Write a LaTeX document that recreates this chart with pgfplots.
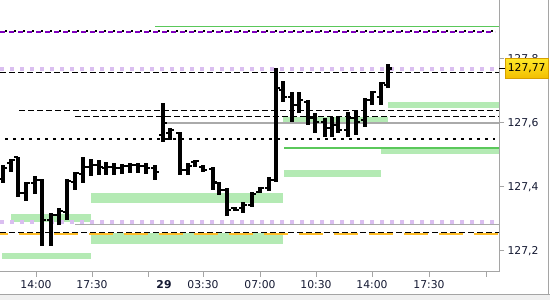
\documentclass[border=0pt]{standalone}
\usepackage{fontspec}
\setmainfont{DejaVu Sans}
\usepackage{pgfplots}
\pgfplotsset{compat=1.18}
\usepackage{pgfplotstable}
\definecolor{band}{RGB}{180,234,180}
\definecolor{lvlgreen}{RGB}{90,200,90}
\definecolor{lvlpurple}{RGB}{128,0,192}
\definecolor{lightpurple}{RGB}{218,190,240}
\definecolor{lvlgray}{RGB}{170,170,170}
\definecolor{lvlorange}{RGB}{255,190,40}
\definecolor{framegray}{RGB}{165,165,165}
\definecolor{stripgray}{RGB}{240,240,240}
\definecolor{labtext}{RGB}{20,25,50}
\definecolor{boxtop}{RGB}{255,232,40}
\definecolor{boxbot}{RGB}{242,190,0}
\definecolor{boxedge}{RGB}{215,160,0}
\newcommand\curprice{127,77}
% open / close of each 30-min bar
\pgfplotstableread{
x o c
3 127.425 127.459
11 127.475 127.484
18 127.494 127.381
26 127.381 127.413
35 127.413 127.422
42 127.422 127.297
51 127.297 127.313
59 127.313 127.325
67 127.322 127.419
75 127.416 127.444
83 127.441 127.463
91 127.463 127.469
99 127.469 127.463
106 127.459 127.463
114 127.463 127.459
122 127.459 127.466
130 127.466 127.469
138 127.469 127.466
146 127.466 127.459
155 127.459 127.447
163 127.563 127.600
170 127.569 127.578
180 127.569 127.453
188 127.453 127.466
195 127.478 127.481
203 127.463 127.453
213 127.456 127.416
219 127.413 127.391
227 127.391 127.328
235 127.334 127.328
243 127.334 127.344
252 127.344 127.378
260 127.384 127.397
269 127.397 127.422
276 127.422 127.709
283 127.703 127.681
292 127.681 127.656
299 127.656 127.672
308 127.666 127.616
315 127.616 127.603
325 127.603 127.584
332 127.584 127.594
338 127.594 127.578
348 127.578 127.616
356 127.616 127.603
365 127.609 127.672
372 127.672 127.697
381 127.681 127.725
388 127.719 127.770
}\oc
% low / high of each bar (low row, high row, break)
\pgfplotstableread{
x y
3 127.413
3 127.469
3 nan
11 127.447
11 127.488
11 nan
18 127.369
18 127.494
18 nan
26 127.356
26 127.416
26 nan
35 127.378
35 127.434
35 nan
42 127.216
42 127.425
42 nan
51 127.216
51 127.319
51 nan
59 127.281
59 127.334
59 nan
67 127.297
67 127.425
67 nan
75 127.391
75 127.447
75 nan
83 127.413
83 127.494
83 nan
91 127.434
91 127.488
91 nan
99 127.438
99 127.484
99 nan
106 127.438
106 127.478
106 nan
114 127.438
114 127.475
114 nan
122 127.441
122 127.472
122 nan
130 127.444
130 127.475
130 nan
138 127.444
138 127.475
138 nan
146 127.441
146 127.475
146 nan
155 127.422
155 127.469
155 nan
163 127.541
163 127.663
163 nan
170 127.547
170 127.584
170 nan
180 127.438
180 127.572
180 nan
188 127.438
188 127.475
188 nan
195 127.463
195 127.484
195 nan
203 127.447
203 127.469
203 nan
213 127.391
213 127.463
213 nan
219 127.375
219 127.416
219 nan
227 127.309
227 127.397
227 nan
235 127.325
235 127.338
235 nan
243 127.319
243 127.353
243 nan
252 127.338
252 127.384
252 nan
260 127.381
260 127.400
260 nan
269 127.388
269 127.431
269 nan
276 127.416
276 127.772
276 nan
283 127.666
283 127.731
283 nan
292 127.603
292 127.697
292 nan
299 127.631
299 127.697
299 nan
308 127.594
308 127.672
308 nan
315 127.569
315 127.631
315 nan
325 127.556
325 127.616
325 nan
332 127.556
332 127.619
332 nan
338 127.569
338 127.619
338 nan
348 127.556
348 127.634
348 nan
356 127.563
356 127.641
356 nan
365 127.588
365 127.678
365 nan
372 127.656
372 127.700
372 nan
381 127.656
381 127.728
381 nan
388 127.709
388 127.784
388 nan
}\hl
\begin{document}
\begin{tikzpicture}
\useasboundingbox (0,0) rectangle (550bp,300bp);
\fill[stripgray] (0,0) rectangle (550bp,5bp);
\draw[framegray, line width=1bp] (0,5.5bp) -- (550bp,5.5bp);
\draw[framegray, line width=1bp] (548bp,5bp) -- (548bp,300bp);
\begin{axis}[
  at={(0bp,28bp)}, anchor=south west,
  scale only axis, width=499bp, height=272bp,
  xmin=0, xmax=499, ymin=127.1344, ymax=127.984,
  axis x line*=bottom, axis y line*=right,
  axis line style={framegray, line width=1bp},
  tick style={framegray, line width=1bp},
  tick align=outside, major tick length=5bp,
  ytick={127.2,127.4,127.6,127.8},
  yticklabels={{127,2},{127,4},{127,6},{127,8}},
  xtick={36,92,148,203,260,316,372,429,486},
  xticklabels={14:00,17:30,,03:30,07:00,10:30,14:00,17:30,},
  extra x ticks={164}, extra x tick labels={\textbf{29}},
  extra x tick style={tick style={draw=none}},
  extra y ticks={127.77}, extra y tick labels={\curprice},
  extra y tick style={tick style={black, line width=1bp}, major tick length=6bp,
    yticklabel style={top color=boxtop, bottom color=boxbot, draw=boxedge,
      minimum width=43bp, minimum height=20bp, inner sep=0pt, text=black}},
  ticklabel style={font=\fontsize{10.8bp}{12bp}\selectfont, text=labtext},
  unbounded coords=jump,
  clip=true,
]
% support / resistance zones
\addplot[fill=band, draw=none] coordinates {(388,127.6469) (499,127.6469) (499,127.6656) (388,127.6656)} --cycle;
\addplot[fill=band, draw=none] coordinates {(283,127.600) (388,127.600) (388,127.619) (283,127.619)} --cycle;
\addplot[fill=band, draw=none] coordinates {(284,127.431) (381,127.431) (381,127.453) (284,127.453)} --cycle;
\addplot[fill=band, draw=none] coordinates {(381,127.503) (499,127.503) (499,127.525) (381,127.525)} --cycle;
\addplot[fill=band, draw=none] coordinates {(91,127.350) (283,127.350) (283,127.381) (91,127.381)} --cycle;
\addplot[fill=band, draw=none] coordinates {(11,127.291) (91,127.291) (91,127.316) (11,127.316)} --cycle;
\addplot[fill=band, draw=none] coordinates {(91,127.222) (283,127.222) (283,127.256) (91,127.256)} --cycle;
\addplot[fill=band, draw=none] coordinates {(2,127.175) (91,127.175) (91,127.194) (2,127.194)} --cycle;
% level lines
\addplot[lvlgreen, line width=1bp] coordinates {(155,127.900) (499,127.900)};
\addplot[lvlpurple, line width=1.5bp, dash pattern=on 5bp off 4bp] coordinates {(0,127.884) (495,127.884)};
\addplot[black, line width=2bp, dash pattern=on 2bp off 7bp, dash phase=-5bp] coordinates {(0,127.888) (495,127.888)};
\addplot[lightpurple, line width=4bp, dash pattern=on 4bp off 6bp] coordinates {(0,127.769) (499,127.769)};
\addplot[black, line width=1bp, dash pattern=on 6bp off 3bp] coordinates {(0,127.759) (499,127.759)};
\addplot[black, line width=1bp, dash pattern=on 6bp off 3bp] coordinates {(19,127.6375) (499,127.6375)};
\addplot[black, line width=1bp, dash pattern=on 6bp off 3bp] coordinates {(75,127.619) (499,127.619)};
\addplot[lvlgray, line width=1.2bp] coordinates {(163,127.600) (499,127.600)};
\addplot[black, line width=2bp, dash pattern=on 3bp off 5bp] coordinates {(5,127.550) (495,127.550)};
\addplot[lvlgreen, line width=1.2bp] coordinates {(284,127.522) (499,127.522)};
\addplot[lightpurple, line width=4bp, dash pattern=on 4bp off 6bp] coordinates {(0,127.291) (499,127.291)};
\addplot[lvlgray, line width=1.2bp] coordinates {(75,127.284) (499,127.284)};
\addplot[black, line width=1bp, dash pattern=on 6bp off 3bp] coordinates {(0,127.259) (499,127.259)};
\addplot[lvlorange, line width=1.6bp, dash pattern=on 24bp off 11bp, dash phase=16bp] coordinates {(0,127.253) (499,127.253)};
% OHLC bars: high-low stems, open tick (left), close tick (right)
\addplot[black, line width=3.2bp, mark=none] table[x=x, y=y] {\hl};
\addplot[black, mark=none, quiver={u=-4.2, v=0,
    every arrow/.append style={line width=2.2bp}}]
  table[x=x, y=o] {\oc};
\addplot[black, mark=none, quiver={u=4.2, v=0,
    every arrow/.append style={line width=2.2bp}}]
  table[x=x, y=c] {\oc};
\end{axis}
\end{tikzpicture}
\end{document}
